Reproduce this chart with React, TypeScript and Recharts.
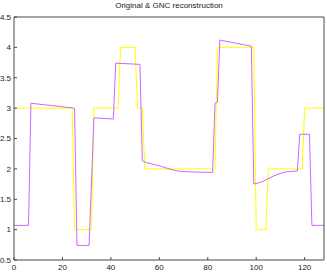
import { LineChart, Line, XAxis, YAxis } from 'recharts';

// original signal (piecewise constant), breakpoints
const origX = [0, 24, 25, 32, 33, 43, 44, 50, 51, 53, 54, 83, 84, 99, 100, 104, 105, 119, 120, 128];
const origY = [3, 3, 1, 1, 3, 3, 4, 4, 3, 3, 2, 2, 4, 4, 1, 1, 2, 2, 3, 3];

// GNC reconstruction
const gncX = [
  0, 6, 7, 16, 25, 26, 31, 32, 33, 41, 42, 52, 53, 55, 58, 61, 64, 67, 70, 75, 82, 83, 84, 85, 98,
  99, 101, 103, 105, 107, 109, 111, 113, 117, 118, 122, 123, 128,
];
const gncY = [
  1.07, 1.07, 3.08, 3.04, 3.0, 0.74, 0.74, 1.79, 2.84, 2.82, 3.74, 3.72, 2.13, 2.1, 2.07, 2.04, 2.0,
  1.97, 1.955, 1.948, 1.942, 3.08, 3.1, 4.12, 4.02, 1.75, 1.77, 1.8, 1.84, 1.88, 1.91, 1.94, 1.955,
  1.965, 2.57, 2.57, 1.07, 1.07,
];

const xTicks = [0, 20, 40, 60, 80, 100, 120];
const yTicks = [0.5, 1, 1.5, 2, 2.5, 3, 3.5, 4, 4.5];

const AXIS = '#4a4a4a';
const FONT = '"Liberation Sans", Arial, Helvetica, sans-serif';

function buildData() {
  const xs = Array.from(new Set([...origX, ...gncX])).sort((a, b) => a - b);
  return xs.map((x) => {
    const i = origX.indexOf(x);
    const j = gncX.indexOf(x);
    return {
      x,
      orig: i >= 0 ? origY[i] : undefined,
      gnc: j >= 0 ? gncY[j] : undefined,
    };
  });
}

export default function App() {
  const data = buildData();
  const tickStyle = { fontSize: 8, fill: '#1a1a1a', fontFamily: FONT };

  return (
    <div style={{ position: 'relative', width: 327, height: 273, background: '#fff' }}>
      <style>{'body{margin:0}'}</style>
      <div
        style={{
          position: 'absolute',
          left: 14,
          width: 310,
          top: 2,
          fontSize: 8,
          lineHeight: '8px',
          fontFamily: FONT,
          textAlign: 'center',
          color: '#1a1a1a',
        }}
      >
        Original &amp; GNC reconstruction
      </div>
      <LineChart width={327} height={273} data={data} margin={{ top: 0, right: 0, bottom: 0, left: 0 }}>
        <XAxis
          dataKey="x"
          type="number"
          domain={[0, 128]}
          ticks={xTicks}
          height={13}
          tickSize={-3}
          tickMargin={7}
          stroke={AXIS}
          tick={tickStyle}
          allowDataOverflow
        />
        <XAxis
          xAxisId="top"
          dataKey="x"
          type="number"
          orientation="top"
          domain={[0, 128]}
          ticks={xTicks}
          height={17}
          tickSize={-3}
          stroke={AXIS}
          tick={false}
          allowDataOverflow
        />
        <YAxis
          type="number"
          domain={[0.5, 4.5]}
          ticks={yTicks}
          width={14}
          tickSize={-3}
          tickMargin={6}
          stroke={AXIS}
          tick={tickStyle}
          allowDataOverflow
        />
        <YAxis
          yAxisId="right"
          type="number"
          orientation="right"
          domain={[0.5, 4.5]}
          ticks={yTicks}
          width={3}
          tickSize={-3}
          stroke={AXIS}
          tick={false}
          allowDataOverflow
        />
        <Line
          type="linear"
          dataKey="orig"
          stroke="#ffff00"
          strokeWidth={1}
          dot={false}
          connectNulls
          isAnimationActive={false}
        />
        <Line
          type="linear"
          dataKey="gnc"
          stroke="#cc66ff"
          strokeWidth={1}
          dot={false}
          connectNulls
          isAnimationActive={false}
        />
      </LineChart>
    </div>
  );
}
